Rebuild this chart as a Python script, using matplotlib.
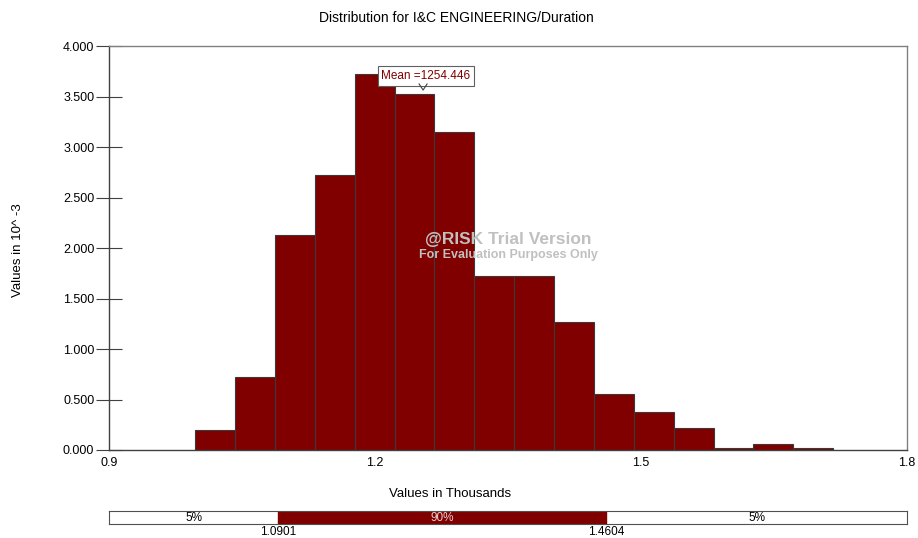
import numpy as np
import matplotlib
matplotlib.use("Agg")
import matplotlib.pyplot as plt

plt.rcParams['font.family'] = ['Liberation Sans', 'DejaVu Sans']

# histogram (values in thousands, density in 10^-3)
bin_start = 0.9975
bin_width = 0.04495
density = [0.195, 0.726, 2.126, 2.726, 3.723, 3.522, 3.146, 1.726,
           1.726, 1.264, 0.551, 0.373, 0.215, 0.017, 0.063, 0.017]
mean_val = 1.254446
p5 = 1.0901
p95 = 1.4604
x_ticks = [0.9, 1.2, 1.5, 1.8]
x_ticklabels = ["0.9", "1.2", "1.5", "1.8"]
y_ticks = [0, 0.5, 1.0, 1.5, 2.0, 2.5, 3.0, 3.5, 4.0]

red = "#800000"
W, H = 918, 538

fig = plt.figure(figsize=(9.18, 5.38), dpi=100)
ax = fig.add_axes([108.7 / W, 1 - 450 / H, (907 - 108.7) / W, (450 - 46) / H])

lefts = bin_start + bin_width * np.arange(len(density))
ax.bar(lefts, density, width=bin_width, align='edge', color=red,
       edgecolor='#3a3a3a', linewidth=0.8, zorder=2)

ax.set_xlim(0.9, 1.8)
ax.set_ylim(0, 4.0)
ax.set_xticks(x_ticks)
ax.set_xticklabels(x_ticklabels)
ax.set_yticks(y_ticks)
ax.set_yticklabels(["%.3f" % v for v in y_ticks])
ax.tick_params(axis='y', direction='inout', length=18.7, width=0.8,
               color='#404040', labelsize=9, pad=1)
ax.tick_params(axis='x', length=0, labelsize=9, pad=5)
for s in ['left', 'bottom']:
    ax.spines[s].set_color('#404040')
    ax.spines[s].set_linewidth(1.0)
for s in ['top', 'right']:
    ax.spines[s].set_color('#808080')
    ax.spines[s].set_linewidth(1.0)

# mean marker
ax.text(1.2574, 3.703, "Mean =1254.446", color=red, fontsize=8.5,
        ha='center', va='center', zorder=5,
        bbox=dict(boxstyle='square,pad=0.3', fc='white', ec='#606060', lw=0.8))
ax.plot([mean_val - 0.0045, mean_val, mean_val + 0.0045], [3.624, 3.564, 3.624],
        color='#404040', lw=0.8, zorder=5)

# watermark
ax.text(1.351, 2.08, "@RISK Trial Version", color='#c0c0c0', fontsize=12.5,
        fontweight='bold', ha='center', va='center', zorder=4)
ax.text(1.351, 1.93, "For Evaluation Purposes Only", color='#c0c0c0', fontsize=9,
        fontweight='bold', ha='center', va='center', zorder=4)

fig.text(456 / W, 1 - 18 / H, "Distribution for I&C ENGINEERING/Duration",
         ha='center', va='center', fontsize=10)
fig.text(18 / W, 1 - 250 / H, "Values in 10^ -3", rotation=90,
         ha='center', va='center', fontsize=9.5)
fig.text(450 / W, 1 - 494 / H, "Values in Thousands",
         ha='center', va='center', fontsize=9.5)

# percentile bar
bx = fig.add_axes([109.3 / W, 1 - 524 / H, (907 - 109.3) / W, 13 / H])
bx.set_xlim(0.9, 1.8)
bx.set_ylim(0, 1)
bx.axvspan(p5, p95, color=red, zorder=1)
bx.text((0.9 + p5) / 2, 0.45, "5%", ha='center', va='center', fontsize=8.5)
bx.text((p5 + p95) / 2, 0.45, "90%", ha='center', va='center', fontsize=8.5,
        color='#e8d0d0')
bx.text((p95 + 1.8) / 2, 0.45, "5%", ha='center', va='center', fontsize=8.5)
bx.set_xticks([])
bx.set_yticks([])
for s in bx.spines.values():
    s.set_color('#505050')
    s.set_linewidth(0.8)
bx.text(p5, -0.6, "%.4f" % p5, ha='center', va='center', fontsize=8.5)
bx.text(p95, -0.6, "%.4f" % p95, ha='center', va='center', fontsize=8.5)

fig.savefig("out.png", dpi=100)
